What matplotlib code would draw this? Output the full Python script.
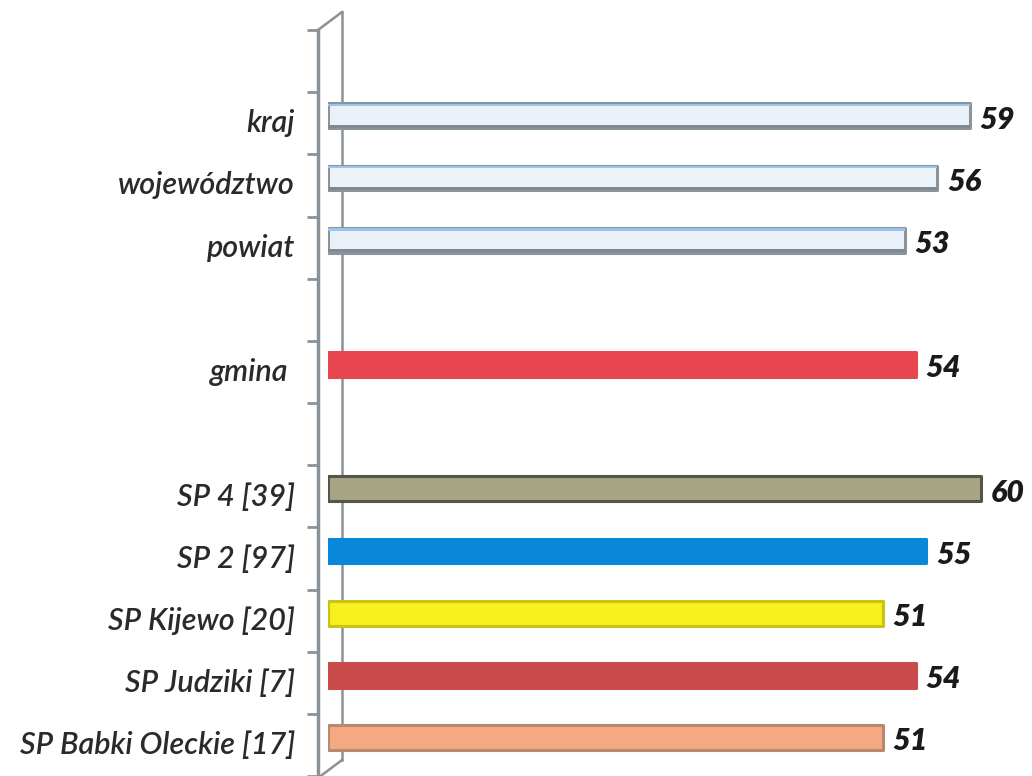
import numpy as np
import matplotlib
matplotlib.use('Agg')
from matplotlib import pyplot as plt
from matplotlib.lines import Line2D
import matplotlib.transforms as mtransforms

plt.rcParams['font.family'] = ['Lato', 'DejaVu Sans']

# data, top to bottom ('' = empty slot)
labels = ['', 'kraj', 'województwo', 'powiat', '', 'gmina ', '',
          'SP 4 [39]', 'SP 2 [97]', 'SP Kijewo [20]', 'SP Judziki [7]', 'SP Babki Oleckie [17]']
values = [None, 59, 56, 53, None, 54, None, 60, 55, 51, 54, 51]
fills = [None, '#eaf1f8', '#eef3f9', '#eaf1f8', None, '#e8474f', None,
         '#a8a586', '#0987d9', '#f7f01c', '#c94b4c', '#f5a983']
edges = [None, '#8a949b', '#8a949b', '#8a949b', None, '#e8474f', None,
         '#55554a', '#0987d9', '#c9c218', '#c94b4c', '#b58a70']

W, H = 1032, 776
fig = plt.figure(figsize=(W / 100, H / 100), dpi=100)
ax = fig.add_axes([328 / W, 0, 1 - 328 / W, 746 / H])
ax.patch.set_visible(False)

n = len(labels)
pos = np.arange(n)
shift = 0.12  # bars sit a bit above the slot centre
lab_tr = mtransforms.blended_transform_factory(fig.transFigure, ax.transData)
for i in range(n):
    if labels[i]:
        ax.text(295 / W, pos[i], labels[i], transform=lab_tr, ha='right', va='center',
                fontsize=22, style='italic', fontweight='semibold', color='#2a2a2a')
    v = values[i]
    if v is None:
        continue
    y = pos[i] - shift
    ax.barh(y, v, height=0.4, color=fills[i], edgecolor=edges[i], linewidth=2.2,
            joinstyle='round')
    if fills[i] in ('#eaf1f8', '#eef3f9'):
        # light blue top edge and darker bottom edge on the pale bars
        ax.barh(y - 0.17, v, height=0.035, color='#9cc3ea', linewidth=0)
        ax.barh(y + 0.17, v, height=0.05, color='#7f898f', linewidth=0)
    ax.text(v + 0.9, pos[i] - 0.06, str(v), va='center', ha='left', fontsize=22,
            fontweight='heavy', style='italic', color='#1a1a1a')

ax.set_ylim(n - 0.5, -0.5)
ax.set_xlim(0, 64.7)

ax.set_yticks(np.arange(n + 1) - 0.5)
ax.set_yticklabels([])
ax.tick_params(axis='y', length=8, width=2, color='#8a9298', direction='out')
ax.set_xticks([])
for s in ['top', 'right', 'bottom']:
    ax.spines[s].set_visible(False)
ax.spines['left'].set_position(('outward', 7.2))
ax.spines['left'].set_color('#8a9298')
ax.spines['left'].set_linewidth(2.5)

# back wall line and its slanted joints, drawn behind the bars
gray = '#8a9298'
for xs, ys in [([342, 342], [12, 760]), ([318, 342], [30, 12]), ([318, 342], [778, 760])]:
    fig.add_artist(Line2D([x / W for x in xs], [1 - y / H for y in ys],
                          color=gray, lw=1.8, zorder=-1))

fig.savefig('out.png', dpi=100, facecolor='white')
